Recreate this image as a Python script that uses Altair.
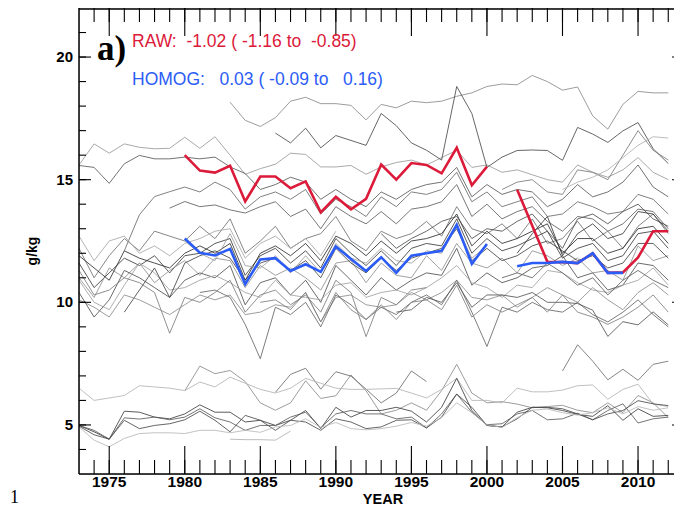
import altair as alt
import pandas as pd

# ---------------- data ----------------
X_LABEL_YEARS = [1975, 1980, 1985, 1990, 1995, 2000, 2005, 2010]
X_MINOR_YEARS = list(range(1974, 2013))
Y_LABEL_VALUES = [5, 10, 15, 20]
Y_MINOR_VALUES = list(range(4, 22))

RED_YEARS_1 = list(range(1980, 2001))
RED_VALUES_1 = [16.0, 15.37, 15.29, 15.57, 14.11, 15.13, 15.13, 14.65, 14.93, 13.67, 14.30,
                13.79, 14.22, 15.62, 15.0, 15.68, 15.6, 15.26, 16.3, 14.77, 15.53]
RED_YEARS_2 = list(range(2002, 2013))
RED_VALUES_2 = [14.59, 13.12, 11.65, 11.64, 11.6, 12.0, 11.2, 11.22, 11.83, 12.9, 12.9]

BLUE_YEARS_1 = list(range(1980, 2001))
BLUE_VALUES_1 = [12.6, 12.02, 11.91, 12.18, 10.74, 11.75, 11.8, 11.28, 11.55, 11.24, 12.28,
                 11.77, 11.28, 11.84, 11.2, 11.9, 12.0, 12.1, 13.16, 11.57, 12.38]
BLUE_YEARS_2 = list(range(2002, 2010))
BLUE_VALUES_2 = [11.47, 11.6, 11.6, 11.65, 11.6, 12.0, 11.2, 11.2]

# station series (start year, values)
S01 = (1983, [18.16, 17.42, 17.17, 17.53, 18.2, 18.36, 18.1, 18.1, 18.03, 17.44, 18.07, 17.93, 18.2, 18.14, 18.2,
              18.4, 18.54, 18.8, 18.9, 18.87, 19.25, 19.0, 18.65, 18.78, 17.6, 17.06, 18.07, 18.6, 18.54, 18.54])
S02 = (1973, [15.6, 16.46, 16.08, 16.46, 16.32, 16.26, 16.28, 16.73, 16.28, 16.75,
              16.0, 15.22, 15.45, 15.63, 16.08, 16.03, 15.52, 15.52, 15.58, 15.22,
              15.52, 15.7, 15.8, 15.6, 15.9, 16.2, 15.5, 15.6, 15.3, 15.4,
              15.2, 15.0, 14.9, 15.6, 15.3, 15.1, 15.4, 15.9, 15.3, 15.0])
S03 = (1973, [15.58, 15.5, 14.85, 15.65, 15.99, 15.85, 15.85, 15.92, 15.85, 15.92,
              15.52, 15.25, 14.6, 14.8, 15.1, 14.9, 14.2, 14.6, 14.2, 13.9,
              14.5, 14.2, 14.6, 14.8, 14.9, 15.5, 14.3, 14.8, 14.4, 14.6,
              14.5, 13.9, 14.2, 14.8, 14.3, 14.5, 14.9, 15.6, 14.7, 14.3])
S04 = (1986, [16.9, 16.5, 17.1, 16.3, 16.8, 16.6, 16.4, 17.7, 17.2, 16.5,
              16.2, 15.8, 18.8, 17.7, 15.5, 15.92, 16.19, 16.21, 16.19, 15.79,
              17.13, 16.86, 16.52, 16.99, 17.33, 16.26, 15.66])
S05 = (2001, [14.6, 14.9, 15.0, 14.5, 14.4, 15.4, 15.3, 15.0, 16.0, 17.0, 16.2, 15.8])
S06 = (2005, [14.6, 14.9, 15.1, 15.4, 15.9, 16.4, 16.75, 16.7])
S07 = (1976, [12.1, 13.57, 14.31, 14.51, 14.7, 14.5, 14.9, 14.6, 13.8, 14.3,
              14.5, 14.2, 14.6, 13.6, 14.2, 13.9, 13.5, 14.3, 13.9, 14.5,
              14.4, 14.6, 15.3, 14.1, 14.5, 13.9, 14.1, 14.3, 13.5, 13.6,
              14.1, 13.9, 13.6, 13.7, 14.4, 14.2, 13.6])
S08 = (1979, [13.84, 14.11, 13.9, 13.97, 13.77, 13.64, 13.9, 14.1, 13.5, 13.8,
              13.0, 13.9, 13.5, 13.2, 13.7, 13.2, 13.8, 13.9, 14.1, 14.8,
              13.5, 14.0, 13.4, 13.7, 13.9, 13.3, 12.9, 13.5, 13.4, 12.9,
              13.2, 13.8, 13.7, 13.0])
S09 = (1973, [12.2, 11.0, 11.9, 12.6, 12.1, 12.9, 12.7, 12.5, 13.1, 12.6,
              13.4, 12.0, 12.5, 13.1, 12.2, 12.6, 12.8, 13.5, 12.5, 12.1,
              12.9, 12.6, 12.8, 13.3, 12.7, 13.9, 13.0, 12.8, 13.2, 12.6,
              13.4, 12.4, 12.6, 13.3, 12.5, 12.9, 12.2, 13.1, 13.6, 12.8])
S10 = (1973, [11.6, 10.6, 11.2, 11.8, 11.5, 11.9, 11.2, 11.9, 12.0, 12.4,
              12.6, 11.1, 11.9, 12.2, 11.6, 12.1, 11.4, 12.6, 12.0, 11.5,
              12.1, 11.5, 12.2, 12.4, 12.3, 13.4, 12.0, 12.6, 12.1, 12.3,
              12.6, 12.9, 11.8, 12.2, 12.4, 11.7, 11.9, 12.8, 12.9, 12.2])
S11 = (1973, [11.0, 10.2, 11.4, 11.0, 11.6, 10.8, 11.3, 11.7, 11.1, 11.8,
              11.7, 10.6, 11.5, 11.1, 11.4, 11.0, 10.5, 11.6, 11.7, 10.8,
              11.6, 11.1, 11.0, 11.9, 11.3, 12.4, 11.6, 11.4, 11.8, 11.2,
              12.1, 11.9, 11.5, 11.8, 11.2, 11.3, 10.9, 12.3, 11.7, 11.9])
S12 = (1973, [10.4, 9.4, 10.1, 11.3, 11.0, 10.6, 10.2, 10.9, 11.2, 11.0,
              11.5, 9.9, 10.8, 11.0, 10.3, 10.9, 10.0, 11.5, 10.9, 10.3,
              11.0, 10.5, 10.9, 11.2, 11.1, 12.2, 10.7, 11.2, 10.8, 11.0,
              11.4, 11.5, 11.9, 11.0, 11.2, 10.5, 10.7, 11.6, 11.5, 10.9])
S13 = (1973, [10.9, 10.0, 9.7, 10.7, 11.6, 11.2, 10.5, 10.6, 10.9, 11.1,
              10.8, 10.4, 10.2, 10.9, 10.3, 10.2, 10.1, 10.7, 10.8, 10.2,
              10.4, 10.5, 10.3, 10.6, 11.0, 11.5, 10.8, 10.6, 10.2, 10.7,
              10.6, 11.3, 11.2, 10.8, 10.5, 10.4, 10.7, 10.9, 11.4, 10.7])
S14 = (1976, [9.6, 10.5, 11.4, 10.2, 11.6, 11.9, 12.1, 11.8, 10.9, 11.6,
              11.8, 11.3, 11.7, 11.0, 12.2, 11.6, 11.2, 11.8, 11.3, 11.8,
              12.0, 12.2, 13.0, 11.7, 12.2, 11.7, 11.9, 12.3, 12.5, 12.1,
              11.7, 11.9, 11.4, 11.6, 12.4, 12.4, 11.8])
S15 = (1973, [11.9, 11.4, 10.9, 12.1, 11.8, 11.6, 11.4, 12.0, 12.3, 12.0,
              12.4, 10.9, 12.0, 12.3, 11.9, 12.4, 11.7, 12.7, 12.4, 11.9,
              12.5, 12.0, 12.5, 12.6, 12.8, 13.6, 12.3, 12.9, 12.4, 12.6,
              12.9, 13.2, 12.0, 12.6, 12.6, 12.0, 12.2, 13.0, 13.1, 12.4])
S16 = (1973, [10.1, 9.8, 9.4, 10.3, 10.1, 9.8, 9.5, 9.9, 10.3, 10.1,
              10.3, 9.5, 9.6, 9.9, 9.8, 10.4, 9.2, 10.2, 10.3, 9.9,
              9.8, 9.9, 10.4, 10.1, 10.4, 10.9, 10.2, 10.1, 10.3, 9.8,
              10.2, 10.6, 10.3, 10.0, 10.6, 10.1, 9.7, 10.4, 10.8, 10.3])
S17 = (1981, [10.4, 10.5, 10.2, 9.1, 7.7, 9.8, 9.5, 10.0, 9.0, 10.3,
              9.9, 9.3, 9.8, 9.5, 10.0, 10.3, 9.9, 10.9, 9.6, 8.2,
              9.8, 9.6, 10.0, 9.7, 9.6, 10.0, 9.5, 9.2, 9.6, 10.1, 9.5, 9.0])
S18 = (1973, [11.3, 10.3, 10.5, 11.0, 10.8, 10.4, 8.74, 10.2, 10.0, 10.4,
              10.9, 9.6, 10.3, 10.5, 9.9, 10.3, 9.6, 10.9, 10.4, 8.6,
              10.2, 9.9, 10.5, 10.6])
S19 = (1994, [9.6, 9.7, 10.2, 10.0, 10.8, 9.8, 10.3, 10.3, 10.2, 10.4,
              10.0, 10.0, 9.95, 9.68, 8.61, 9.21, 9.08, 9.61, 9.08])
S20 = (1993, [12.8, 12.2, 12.6, 12.9, 13.3, 13.5, 12.6, 13.0, 12.9, 13.3,
              13.6, 12.9, 12.2, 13.4, 13.6, 13.2, 13.7, 14.0, 13.4, 13.1])
S21 = (1980, [12.5, 12.0, 11.7, 12.8, 11.5, 11.4, 11.9, 11.2, 11.9, 11.2,
              12.4, 11.8, 11.6, 12.2, 11.7, 11.6, 12.1, 12.0, 13.1, 11.8, 12.3])
S22 = (2002, [12.0, 12.8, 13.5, 11.9, 12.8, 13.2, 12.6, 12.8, 13.7, 13.6, 12.9])
S23 = (1973, [12.7, 11.7, 12.5, 12.7, 12.0, 12.3, 11.9, 12.4, 12.6, 12.9,
              13.0, 11.8, 12.4, 12.7, 12.2, 12.6, 11.9, 12.9])
S24 = (1985, [10.0, 10.1, 9.7, 10.4, 9.2, 10.4, 9.7, 9.3, 9.9, 9.3,
              10.0, 10.1, 9.7, 10.7, 9.4, 9.9, 9.6, 9.9, 10.2, 9.6,
              10.3, 9.6, 9.4, 9.1, 9.4, 9.8, 10.3, 9.6])
S25 = (2001, [11.0, 11.2, 11.0, 11.6, 11.2, 10.7, 11.0, 10.3, 10.9, 11.3, 10.9, 10.6])
S26 = (2005, [7.2, 8.27, 7.6, 6.84, 7.27, 6.82, 7.47, 7.6])
S27 = (1980, [6.39, 7.4, 7.09, 7.22, 6.77, 5.9, 5.6, 5.9, 6.8, 6.08,
              6.19, 7.04, 6.39, 5.45, 5.6, 5.9, 5.6, 6.4, 7.47, 6.3,
              5.9, 5.95, 5.85, 5.7, 5.75, 5.8, 5.6, 5.5, 5.9, 5.5, 6.2, 5.9, 5.3])
S28 = (1986, [6.33, 7.06, 7.31, 6.46, 7.17, 6.99, 6.46, 5.9, 6.3, 7.2, 6.77])
S29 = (1973, [6.5, 6.0, 6.1, 6.2, 6.6, 6.55, 6.5, 6.4, 6.75, 6.55,
              6.95, 6.7, 6.45, 6.3, 6.5, 6.9, 6.7, 6.5, 6.45, 6.45,
              6.47, 6.49, 6.3, 6.1, 6.45, 6.9, 6.0, 6.0, 5.9, 6.5,
              6.35, 6.35, 6.42, 6.6, 6.63, 6.05, 6.45, 6.66, 5.85, 5.75])
S30 = (1973, [4.98, 4.72, 4.42, 5.56, 5.52, 5.32, 5.25, 5.45, 5.82, 5.52,
              5.52, 5.12, 5.19, 4.98, 5.19, 5.59, 4.85, 5.72, 5.32, 5.59,
              5.59, 5.72, 5.56, 5.12, 5.72, 6.9, 5.59, 4.98, 4.92, 5.52,
              5.72, 5.7, 5.59, 5.43, 5.35, 5.79, 5.19, 5.66, 5.35, 5.39])
S31 = (1973, [4.98, 4.78, 4.42, 5.29, 5.24, 5.32, 5.21, 5.32, 5.66, 5.29,
              5.12, 4.78, 4.98, 4.98, 5.32, 5.52, 4.89, 5.45, 5.59, 5.45,
              5.45, 5.25, 5.32, 4.88, 5.45, 6.26, 5.52, 5.01, 5.05, 5.45,
              5.59, 5.21, 5.25, 5.48, 5.21, 5.59, 5.86, 5.08, 5.25, 5.32])
S32 = (1973, [4.95, 4.6, 4.42, 5.19, 4.85, 4.98, 5.05, 5.21, 5.56, 5.19,
              4.72, 5.39, 5.19, 4.78, 5.19, 5.12, 4.78, 5.25, 5.12, 4.85,
              4.92, 5.19, 5.21, 4.88, 5.32, 6.26, 5.72, 4.98, 4.92, 5.25,
              5.72, 5.72, 5.66, 5.45, 5.21, 5.45, 5.59, 5.99, 5.86, 5.79])
S33 = (1973, [4.92, 4.38, 4.11, 4.45, 4.65, 4.68, 4.68, 4.65, 4.78, 4.78,
              4.68, 4.78, 4.7, 4.92, 4.98, 5.25, 4.9, 5.1, 4.85, 4.8,
              4.85, 4.95, 5.1, 4.95, 5.3, 5.9, 5.5, 5.0, 4.9, 5.3,
              5.6, 5.65, 5.5, 5.4, 5.5, 5.7, 5.45, 5.75, 5.6, 5.7])
S34 = (1983, [4.42, 4.4, 4.4, 4.38, 4.75])

GRAY_SERIES = [S01, S02, S03, S04, S05, S06, S07, S08, S09, S10, S11, S12, S13, S14, S15, S16, S17,
               S18, S19, S20, S21, S22, S23, S24, S25, S26, S27, S28, S29, S30, S31, S32, S33, S34]
SHADES = ["#8a8a8a", "#9a9a9a", "#5a5a5a", "#4a4a4a", "#7a7a7a", "#b0b0b0", "#6a6a6a", "#5e5e5e",
          "#707070", "#3c3c3c", "#909090", "#505050", "#a0a0a0", "#444444", "#2e2e2e", "#8c8c8c",
          "#666666", "#7c7c7c", "#555555", "#4e4e4e", "#9c9c9c", "#3a3a3a", "#a6a6a6", "#7e7e7e",
          "#606060", "#707070", "#8a8a8a", "#6c6c6c", "#b4b4b4", "#3e3e3e", "#5c5c5c", "#4a4a4a",
          "#b8b8b8", "#b0b0b0"]

RAW_TEXT = "RAW:  -1.02 ( -1.16 to  -0.85)"
HOMOG_TEXT = "HOMOG:   0.03 ( -0.09 to   0.16)"
X_TITLE = "YEAR"
Y_TITLE = "g/kg"
PANEL = "a)"
CORNER = "1"
RED = "#dc1a3a"
BLUE = "#2c5cf6"

# ---------------- build ----------------
W, H = 595, 466
RIGHT = 605          # the right frame lies just outside the picture, as in the original
xscale = alt.Scale(domain=[1973, 2012.38], nice=False, zero=False)
yscale = alt.Scale(domain=[3, 22], nice=False, zero=False)

rows = []
for i, (start, vals) in enumerate(GRAY_SERIES):
    for k, v in enumerate(vals):
        rows.append({"series": f"s{i:02d}", "year": start + k, "value": v, "shade": SHADES[i]})
gray_df = pd.DataFrame(rows)

gray = alt.Chart(gray_df).mark_line(strokeWidth=0.85).encode(
    x=alt.X("year:Q", scale=xscale, axis=None),
    y=alt.Y("value:Q", scale=yscale, axis=None),
    detail="series:N",
    color=alt.Color("shade:N", scale=None),
)

red_df = pd.DataFrame({
    "year": RED_YEARS_1 + RED_YEARS_2,
    "value": RED_VALUES_1 + RED_VALUES_2,
    "seg": ["a"] * len(RED_YEARS_1) + ["b"] * len(RED_YEARS_2),
})
blue_df = pd.DataFrame({
    "year": BLUE_YEARS_1 + BLUE_YEARS_2,
    "value": BLUE_VALUES_1 + BLUE_VALUES_2,
    "seg": ["a"] * len(BLUE_YEARS_1) + ["b"] * len(BLUE_YEARS_2),
})


def series_line(df, color):
    return alt.Chart(df).mark_line(color=color, strokeWidth=2.6, strokeJoin="miter").encode(
        x=alt.X("year:Q", scale=xscale, axis=None),
        y=alt.Y("value:Q", scale=yscale, axis=None),
        detail="seg:N",
    )


red = series_line(red_df, RED)
blue = series_line(blue_df, BLUE)

minor_x = pd.DataFrame({"year": X_MINOR_YEARS})
major_x = pd.DataFrame({"year": X_LABEL_YEARS})
minor_y = pd.DataFrame({"v": Y_MINOR_VALUES})
major_y = pd.DataFrame({"v": Y_LABEL_VALUES})


def xticks(df, y0, y1):
    return alt.Chart(df).mark_rule(color="black", strokeWidth=1.1).encode(
        x=alt.X("year:Q", scale=xscale, axis=None), y=alt.value(y0), y2=alt.value(y1))


def yticks(df, x0, x1):
    return alt.Chart(df).mark_rule(color="black", strokeWidth=1.1).encode(
        y=alt.Y("v:Q", scale=yscale, axis=None), x=alt.value(x0), x2=alt.value(x1))


ticks = [
    xticks(minor_x, H, H - 14), xticks(minor_x, 0, 14),
    xticks(major_x, H, H - 28), xticks(major_x, 0, 28),
    yticks(minor_y, 0, 7), yticks(minor_y, RIGHT, RIGHT - 7),
    yticks(major_y, 0, 12), yticks(major_y, RIGHT, RIGHT - 12),
]

one = pd.DataFrame({"k": [0]})
frame = [
    alt.Chart(one).mark_rule(color="black", strokeWidth=1.5).encode(
        x=alt.value(0), x2=alt.value(RIGHT), y=alt.value(1)),
    alt.Chart(one).mark_rule(color="black", strokeWidth=1.5).encode(
        x=alt.value(0), x2=alt.value(RIGHT), y=alt.value(H)),
    alt.Chart(one).mark_rule(color="black", strokeWidth=1.5).encode(
        x=alt.value(0), y=alt.value(0), y2=alt.value(H)),
]

xlabels = alt.Chart(major_x).mark_text(
    align="center", baseline="top", font="Liberation Sans", fontSize=15.5, fontWeight="bold", color="black"
).encode(x=alt.X("year:Q", scale=xscale, axis=None), y=alt.value(H + 1), text=alt.Text("year:Q", format="d"))

ylabels = alt.Chart(major_y).mark_text(
    align="right", baseline="middle", font="Liberation Sans", fontSize=15, fontWeight="bold", color="black"
).encode(y=alt.Y("v:Q", scale=yscale, axis=None), x=alt.value(-6), text=alt.Text("v:Q", format="d"))


def label(text, x, y, size, color, font, weight="normal", align="left", baseline="alphabetic", angle=0):
    return alt.Chart(pd.DataFrame({"t": [text.replace(" ", "\u00a0")]})).mark_text(
        align=align, baseline=baseline, font=font, fontSize=size, fontWeight=weight, color=color, angle=angle
    ).encode(x=alt.value(x), y=alt.value(y), text="t:N")


texts = [
    label(PANEL, 18, 52, 35, "black", "Liberation Serif", "bold"),
    label(RAW_TEXT, 53, 39, 17.5, RED, "Liberation Sans"),
    label(HOMOG_TEXT, 53, 77, 17.5, BLUE, "Liberation Sans"),
    label(CORNER, -69, 495, 18, "black", "Liberation Serif"),
    label(X_TITLE, 304, 496, 14.5, "black", "Liberation Sans", "bold", align="center"),
    label(Y_TITLE, -46, 243, 14, "black", "Liberation Sans", "bold", align="center", baseline="middle", angle=270),
]

chart = alt.layer(gray, red, blue, *frame, *ticks, xlabels, ylabels, *texts).properties(
    width=W, height=H,
    padding={"left": 71, "top": 0, "right": 0, "bottom": 33},
    autosize=alt.AutoSizeParams(type="none"),
).configure_view(stroke=None).configure(background="white")

chart.save("out.html", embed_options={"renderer": "svg", "actions": False})
